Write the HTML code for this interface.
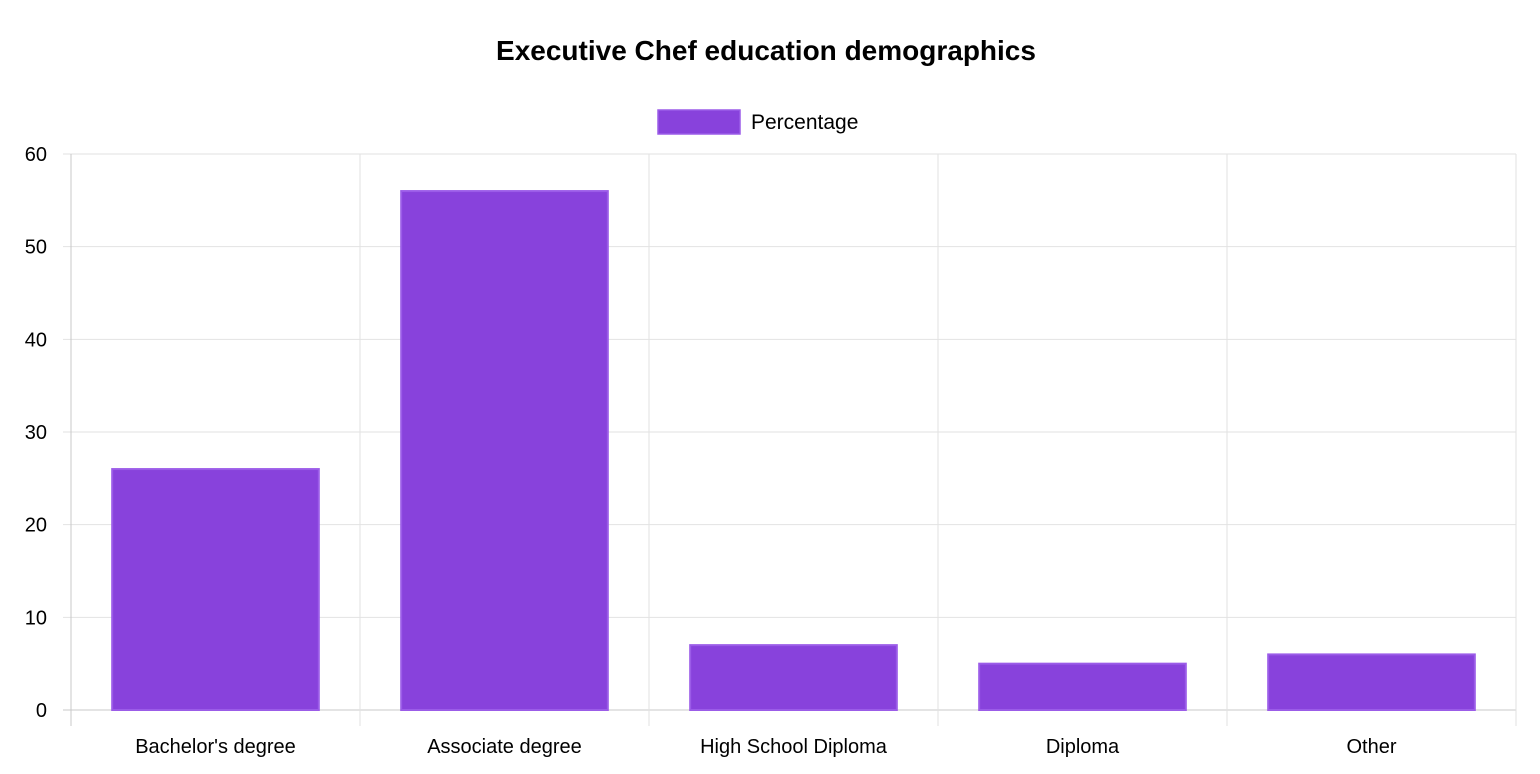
<!DOCTYPE html>
<html><head><meta charset="utf-8"><style>
body{margin:0;background:#fff;font-family:"Liberation Sans",Arial,sans-serif;}
svg{display:block}
</style></head><body>
<svg id="c" width="1540" height="774">
<text x="766" y="60" text-anchor="middle" font-size="28" font-weight="bold" fill="#000">Executive Chef education demographics</text>
<g>
<rect x="658" y="110" width="82" height="24" fill="#8842dc" stroke="#9b5ce8" stroke-width="1.5"></rect>
<text x="751" y="129" font-size="21" fill="#000">Percentage</text>
</g>
</svg>
<script>
const categories=["Bachelor's degree","Associate degree","High School Diploma","Diploma","Other"];
const values=[26,56,7,5,6];
const yTicks=[0,10,20,30,40,50,60];
const svg=document.getElementById('c');
const NS='http://www.w3.org/2000/svg';
const L=71,R=1516,T=154,B=710,yMax=60;
const y=v=>B-(v/yMax)*(B-T);
const bw=(R-L)/categories.length;
const x=i=>L+bw*i;
function mk(t,a,p){const e=document.createElementNS(NS,t);for(const k in a)e.setAttribute(k,a[k]);(p||svg).appendChild(e);return e;}
const grid=mk('g',{});


yTicks.forEach(v=>{
  mk('line',{x1:L-8,x2:R,y1:y(v),y2:y(v),stroke:v===0?'#c8c8c8':'#e2e2e2','stroke-width':1},grid);
  const t=mk('text',{x:47,y:y(v)+7,'text-anchor':'end','font-size':20,fill:'#000'});
  
  
  t.textContent=v;
});
for(let i=0;i<=categories.length;i++){
  mk('line',{x1:x(i),x2:x(i),y1:T,y2:B+16,stroke:i===0?'#c8c8c8':'#e2e2e2','stroke-width':1},grid);
}
categories.forEach((c,i)=>{
  const w=bw*0.715,bx=x(i)+(bw-w)/2;
  const r=mk('rect',{x:bx,y:y(values[i]),width:w,height:B-y(values[i]),fill:'#8842dc',stroke:'#9b5ce8','stroke-width':2});
  
  
  const t=mk('text',{x:x(i)+bw/2,y:753,'text-anchor':'middle','font-size':20,fill:'#000'});
  
  
  t.textContent=c;
});
</script>
</body></html>
